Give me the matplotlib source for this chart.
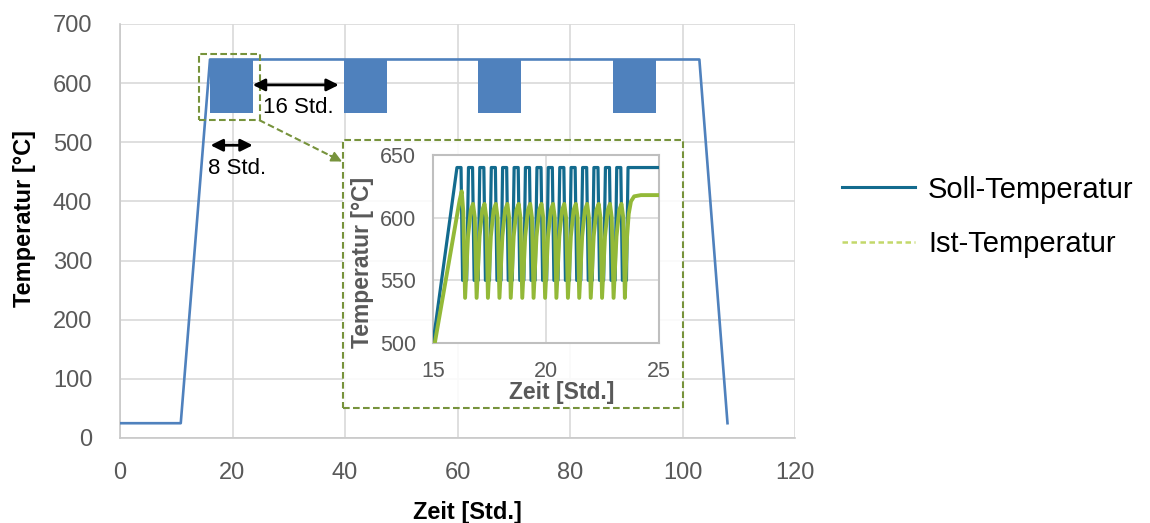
import matplotlib
matplotlib.use("Agg")
import matplotlib.pyplot as plt
from matplotlib.lines import Line2D
from matplotlib.patches import Rectangle, FancyArrowPatch

plt.rcParams['font.family'] = ['Liberation Sans', 'DejaVu Sans']

# ---------------- data ----------------
# main profile (Soll-Temperatur, overview)
main_time = [0.0, 10.8, 16.0, 103.0, 108.0]
main_temp = [25, 25, 640, 640, 25]
# cycling blocks (dense oscillation 550..640 °C)
block_start = [16.0, 39.8, 63.7, 87.7]
block_end = [23.6, 47.4, 71.3, 95.3]
block_low = 550
block_high = 640

# inset: Soll-Temperatur 15..25 h
soll_time = [15.00, 16.06,
             16.24, 16.31, 16.49, 16.57,
             16.75, 16.82, 17.00, 17.07,
             17.25, 17.32, 17.50, 17.58,
             17.76, 17.83, 18.01, 18.08,
             18.26, 18.33, 18.51, 18.59,
             18.77, 18.84, 19.02, 19.09,
             19.27, 19.34, 19.52, 19.60,
             19.78, 19.85, 20.03, 20.10,
             20.28, 20.35, 20.53, 20.61,
             20.79, 20.86, 21.04, 21.11,
             21.29, 21.36, 21.54, 21.62,
             21.80, 21.87, 22.05, 22.12,
             22.30, 22.37, 22.55, 22.63,
             22.81, 22.88, 23.06, 23.13,
             23.31, 23.38, 23.56, 23.63,
             25.00]
soll_temp = [500, 640,
             640, 550, 550, 640,
             640, 550, 550, 640,
             640, 550, 550, 640,
             640, 550, 550, 640,
             640, 550, 550, 640,
             640, 550, 550, 640,
             640, 550, 550, 640,
             640, 550, 550, 640,
             640, 550, 550, 640,
             640, 550, 550, 640,
             640, 550, 550, 640,
             640, 550, 550, 640,
             640, 550, 550, 640,
             640, 550, 550, 640,
             640, 550, 550, 640,
             640]

# inset: Ist-Temperatur 15..25 h
ist_time = [15.08, 16.18, 16.27, 16.34, 16.42,
            16.55, 16.67, 16.77, 16.85, 16.93,
            17.06, 17.18, 17.28, 17.36, 17.43,
            17.56, 17.68, 17.78, 17.86, 17.94,
            18.07, 18.19, 18.29, 18.37, 18.44,
            18.57, 18.69, 18.79, 18.87, 18.95,
            19.08, 19.20, 19.30, 19.38, 19.45,
            19.58, 19.70, 19.80, 19.88, 19.96,
            20.09, 20.21, 20.31, 20.39, 20.46,
            20.59, 20.71, 20.81, 20.89, 20.97,
            21.10, 21.22, 21.32, 21.40, 21.47,
            21.60, 21.72, 21.82, 21.90, 21.98,
            22.11, 22.23, 22.33, 22.41, 22.48,
            22.61, 22.73, 22.83, 22.91, 22.99,
            23.12, 23.24, 23.34, 23.42, 23.49,
            23.58, 23.66, 23.76, 23.90, 24.20, 25.00]
ist_temp = [500, 614, 621, 605, 536,
            585, 606, 611, 600, 536,
            585, 606, 611, 600, 536,
            585, 606, 611, 600, 536,
            585, 606, 611, 600, 536,
            585, 606, 611, 600, 536,
            585, 606, 611, 600, 536,
            585, 606, 611, 600, 536,
            585, 606, 611, 600, 536,
            585, 606, 611, 600, 536,
            585, 606, 611, 600, 536,
            585, 606, 611, 600, 536,
            585, 606, 611, 600, 536,
            585, 606, 611, 600, 536,
            585, 606, 611, 600, 536,
            583, 603, 613, 617, 618, 618]

main_xticks = [0, 20, 40, 60, 80, 100, 120]
main_yticks = [0, 100, 200, 300, 400, 500, 600, 700]
inset_xticks = [15, 20, 25]
inset_yticks = [500, 550, 600, 650]
legend_labels = ['Soll-Temperatur', 'Ist-Temperatur']

# ---------------- styles ----------------
W, H = 1150, 523
BLUE = '#4f81bd'
TEAL = '#136b8e'
GREEN = '#93b938'
GREEN_LEG = '#c3d86a'
OLIVE = '#77933c'
GRID = '#d9d9d9'
TICKC = '#595959'

def fx(px):
    return px / W

def fy(py):
    return 1 - py / H

fig = plt.figure(figsize=(W / 100, H / 100), dpi=100)

# main axes
ax = fig.add_axes([fx(120), fy(438), fx(795) - fx(120), fy(24) - fy(438)])
ax.set_zorder(0)
ax.plot(main_time, main_temp, color=BLUE, lw=1.9, zorder=3)
for s, e in zip(block_start, block_end):
    ax.fill_between([s, e], [block_low, block_low], [block_high, block_high],
                    color=BLUE, lw=0, zorder=3)
ax.set_xlim(0, 120)
ax.set_ylim(0, 700)
ax.set_xticks(main_xticks)
ax.set_yticks(main_yticks)
ax.grid(True, color=GRID, lw=1.2, zorder=0)
ax.set_axisbelow(True)
for sp in ['top', 'right']:
    ax.spines[sp].set_visible(False)
for sp in ['left', 'bottom']:
    ax.spines[sp].set_color('#c8c8c8')
    ax.spines[sp].set_linewidth(1.2)
ax.tick_params(axis='both', length=0, labelsize=17, labelcolor=TICKC)
ax.tick_params(axis='x', pad=17)
ax.tick_params(axis='y', pad=20)

fig.text(fx(24), fy(218), 'Temperatur [°C]', rotation=90, ha='center', va='center',
         fontsize=17, fontweight='bold', color='black')
fig.text(fx(467), fy(512), 'Zeit [Std.]', ha='center', va='center',
         fontsize=17, fontweight='bold', color='black')

# small dashed box around first block
dash = (0, (3.2, 1.6))
ax.add_patch(Rectangle((14.0, 537), 10.9, 112, fill=False, edgecolor=OLIVE,
                       lw=1.5, ls=dash, clip_on=False, zorder=5))

# double arrows
ax.annotate('', xy=(23.6, 597), xytext=(38.9, 597),
            arrowprops=dict(arrowstyle='<|-|>', color='black', lw=2,
                            mutation_scale=18, shrinkA=0, shrinkB=0), zorder=6)
ax.text(31.7, 559, '16 Std.', ha='center', va='center', fontsize=16, color='black')
ax.annotate('', xy=(16.1, 495), xytext=(23.6, 495),
            arrowprops=dict(arrowstyle='<|-|>', color='black', lw=2,
                            mutation_scale=18, shrinkA=0, shrinkB=0), zorder=6)
ax.text(20.9, 456, '8 Std.', ha='center', va='center', fontsize=16, color='black')

# inset panel
panel = Rectangle((fx(343), fy(408)), fx(683) - fx(343), fy(140) - fy(408),
                  transform=fig.transFigure, facecolor=(1, 1, 1, 0.85),
                  edgecolor='none', zorder=1)
fig.add_artist(panel)
panel_edge = Rectangle((fx(343), fy(408)), fx(683) - fx(343), fy(140) - fy(408),
                       transform=fig.transFigure, fill=False, edgecolor=OLIVE,
                       lw=1.5, ls=dash, zorder=1.1)
fig.add_artist(panel_edge)

# dashed connector arrow
fig.add_artist(Line2D([fx(259), fx(333)], [fy(120), fy(157)], transform=fig.transFigure,
                      color=OLIVE, lw=1.5, ls=dash, zorder=1.2))
fig.add_artist(FancyArrowPatch((fx(330), fy(155.5)), (fx(342), fy(161.5)),
                               transform=fig.transFigure, arrowstyle='-|>',
                               mutation_scale=16, color=OLIVE, lw=1.2,
                               shrinkA=0, shrinkB=0, zorder=1.2))

# inset axes
axi = fig.add_axes([fx(433), fy(343), fx(659) - fx(433), fy(155) - fy(343)])
axi.set_zorder(3)
axi.set_facecolor('white')
axi.plot(soll_time, soll_temp, color=TEAL, lw=2.3, zorder=3)
axi.plot(ist_time, ist_temp, color=GREEN, lw=2.8, zorder=4)
axi.set_xlim(15, 25)
axi.set_ylim(500, 650)
axi.set_xticks(inset_xticks)
axi.set_yticks(inset_yticks)
axi.grid(True, color=GRID, lw=1.2)
axi.set_axisbelow(True)
for sp in axi.spines.values():
    sp.set_color('#bfbfbf')
    sp.set_linewidth(1.5)
axi.tick_params(axis='both', length=0, labelsize=15.5, labelcolor=TICKC)
axi.tick_params(axis='x', pad=13)
axi.tick_params(axis='y', pad=12)

fig.text(fx(363), fy(262), 'Temperatur [°C]', rotation=90, ha='center', va='center',
         fontsize=16.5, fontweight='bold', color=TICKC, zorder=4)
fig.text(fx(562), fy(393), 'Zeit [Std.]', ha='center', va='center',
         fontsize=16.5, fontweight='bold', color=TICKC, zorder=4)

# legend
handles = [Line2D([], [], color=TEAL, lw=2.2),
           Line2D([], [], color=GREEN_LEG, lw=1.8, ls=(0, (2.2, 1.4)))]
fig.legend(handles, legend_labels, loc='center left',
           bbox_to_anchor=(fx(842), fy(217)), frameon=False, fontsize=21,
           handlelength=2.5, handletextpad=0.45, labelspacing=0.92,
           borderaxespad=0, borderpad=0)

fig.savefig('out.png', dpi=100)
